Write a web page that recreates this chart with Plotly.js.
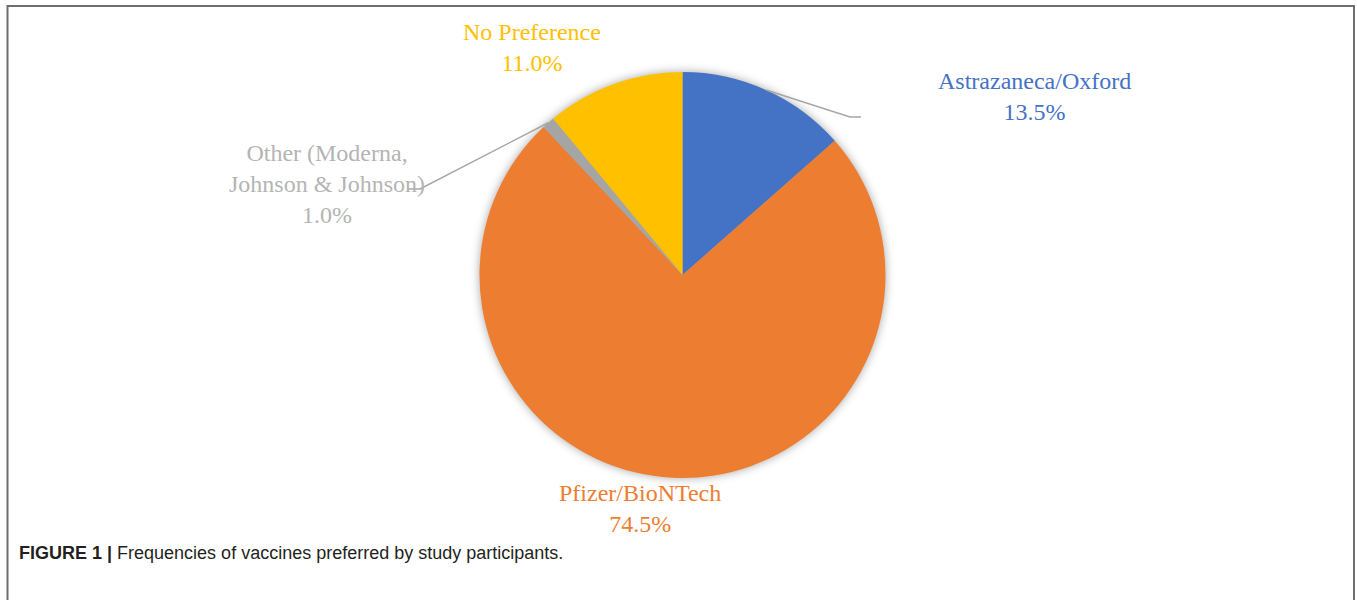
<!DOCTYPE html>
<html>
<head>
<meta charset="utf-8">
<script src="https://cdn.plot.ly/plotly-3.0.1.min.js"></script>
<style>
  html, body { margin: 0; padding: 0; background: #fff; }
  #chart { width: 1357px; height: 600px; }
  .pielayer .trace { filter: drop-shadow(0px 0px 5px rgba(0,0,0,0.35)); }
</style>
</head>
<body>
<div id="chart"></div>
<script>
// ---- data ----
const categories = ["Astrazaneca/Oxford", "Pfizer/BioNTech", "Other (Moderna,<br>Johnson & Johnson)", "No Preference"];
const values = [13.5, 74.5, 1.0, 11.0];
const colors = ["#4472C4", "#ED7D31", "#A5A5A5", "#FFC000"];
const labelColors = ["#4472C4", "#ED7D31", "#B4B4B4", "#FFC000"];
const caption = "<b>FIGURE 1 |</b> Frequencies of vaccines preferred by study participants.";

// ---- layout geometry (pixels) ----
const W = 1357, H = 600;
const cx = 682.5, cy = 275, R = 203;
const px = x => x / W;
const py = y => 1 - y / H;

// label positions (pixel centers) per category
const labelPos = [[1034, 97], [640, 508], [327, 184], [532, 47]];

const total = values.reduce((a, b) => a + b, 0);
// mid-angles (clockwise from 12 o'clock)
const midPoints = [];
let cum = 0;
values.forEach(v => {
  const a = (cum + v / 2) / total * 2 * Math.PI;
  midPoints.push([cx + R * Math.sin(a), cy - R * Math.cos(a)]);
  cum += v;
});

const annotations = categories.map((c, i) => ({
  text: c + "<br>" + values[i].toFixed(1) + "%",
  x: px(labelPos[i][0]), y: py(labelPos[i][1]),
  xref: "paper", yref: "paper",
  xanchor: "center", yanchor: "middle",
  showarrow: false,
  font: { family: "Liberation Serif, serif", size: 24, color: labelColors[i] }
}));
annotations.push({
  text: caption,
  x: px(17), y: py(553), xref: "paper", yref: "paper",
  xanchor: "left", yanchor: "middle", showarrow: false,
  font: { family: "Liberation Sans, Arial, sans-serif", size: 18, color: "#231F20" }
});

function pathFrom(pts) {
  return pts.map((p, k) => (k ? "L" : "M") + px(p[0]) + "," + py(p[1])).join(" ");
}
const leaderColor = "#A6A6A6";
const shapes = [
  // leader: Astrazeneca
  { type: "path", xref: "paper", yref: "paper",
    path: pathFrom([midPoints[0], [850, 117], [861, 117]]),
    line: { color: leaderColor, width: 1.5 } },
  // leader: Other
  { type: "path", xref: "paper", yref: "paper",
    path: pathFrom([midPoints[2], [420, 189], [408, 189]]),
    line: { color: leaderColor, width: 1.5 } },
  // frame
  { type: "path", xref: "paper", yref: "paper",
    path: pathFrom([[7.5, 600], [7.5, 6], [1354, 6], [1354, 600]]),
    line: { color: "#6E6E6E", width: 2 } }
];

const trace = {
  type: "pie",
  values: values,
  labels: categories,
  marker: { colors: colors, line: { width: 0 } },
  sort: false,
  direction: "clockwise",
  rotation: 0,
  textinfo: "none",
  hoverinfo: "label+percent",
  domain: { x: [px(cx - R), px(cx + R)], y: [py(cy + R), py(cy - R)] }
};

const layout = {
  width: W, height: H,
  margin: { l: 0, r: 0, t: 0, b: 0 },
  paper_bgcolor: "#ffffff",
  showlegend: false,
  annotations: annotations,
  shapes: shapes
};

Plotly.newPlot("chart", [trace], layout, { displayModeBar: false, staticPlot: true });
</script>
</body>
</html>
